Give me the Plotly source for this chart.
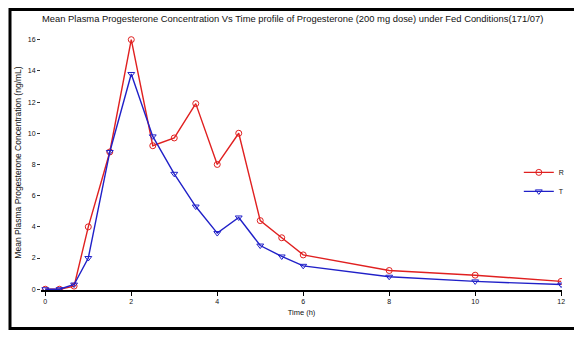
import plotly.graph_objects as go

time_h = [0, 0.33, 0.67, 1, 1.5, 2, 2.5, 3, 3.5, 4, 4.5, 5, 5.5, 6, 8, 10, 12]
conc_R = [0.0, 0.0, 0.2, 4.0, 8.8, 16.0, 9.2, 9.7, 11.9, 8.0, 10.0, 4.4, 3.3, 2.2, 1.2, 0.9, 0.5]
conc_T = [0.0, 0.0, 0.3, 2.0, 8.8, 13.8, 9.8, 7.4, 5.3, 3.6, 4.6, 2.8, 2.1, 1.5, 0.8, 0.5, 0.3]
x_ticks = [0, 2, 4, 6, 8, 10, 12]
y_ticks = [0, 2, 4, 6, 8, 10, 12, 14, 16]

fig = go.Figure()
fig.add_trace(go.Scatter(
    x=time_h, y=conc_R, name="R", mode="lines+markers",
    line=dict(color="#e02020", width=1.4),
    marker=dict(symbol="circle-open", size=6, color="#e02020", line=dict(width=1))))
fig.add_trace(go.Scatter(
    x=time_h, y=conc_T, name="T", mode="lines+markers",
    line=dict(color="#2020c8", width=1.4),
    marker=dict(symbol="triangle-down-open", size=6, color="#2020c8", line=dict(width=1))))

fig.update_layout(
    width=566, height=322,
    margin=dict(l=33, r=4, t=27, b=40),
    paper_bgcolor="white", plot_bgcolor="white",
    font=dict(family="Liberation Sans", size=8, color="#222222"),
    title=dict(text="Mean Plasma Progesterone Concentration Vs Time profile of Progesterone (200 mg dose) under Fed Conditions(171/07)",
               x=0.503, xanchor="center", y=0.966, yanchor="middle",
               font=dict(size=9.4, color="#111111")),
    showlegend=True,
    legend=dict(x=1.015, xanchor="right", y=0.424, yanchor="middle",
                bgcolor="rgba(0,0,0,0)", font=dict(size=7, color="#111111"),
                itemwidth=30, tracegroupgap=0),
    xaxis=dict(range=[-0.1, 12.02], tickvals=x_ticks, showgrid=False, zeroline=False,
               showline=True, linecolor="black", linewidth=1.5,
               ticks="outside", ticklen=4, tickcolor="black",
               title=dict(text="Time (h)", font=dict(size=7.5, color="#111111"), standoff=6),
               tickfont=dict(size=7, color="#111111")),
    yaxis=dict(range=[-0.05, 16.3], tickvals=y_ticks, showgrid=False, zeroline=False,
               showline=False, ticks="outside", ticklen=3, tickcolor="#333333",
               title=dict(text="Mean Plasma Progesterone Concentration (ng/mL)", font=dict(size=8.5, color="#111111"), standoff=4),
               tickfont=dict(size=7, color="#111111")),
    shapes=[dict(type="rect", xref="paper", yref="paper",
                 x0=-0.0595, x1=1.06, y0=-0.151, y1=1.100,
                 line=dict(color="black", width=3), fillcolor="rgba(0,0,0,0)")],
)

fig.write_html("out.html")
